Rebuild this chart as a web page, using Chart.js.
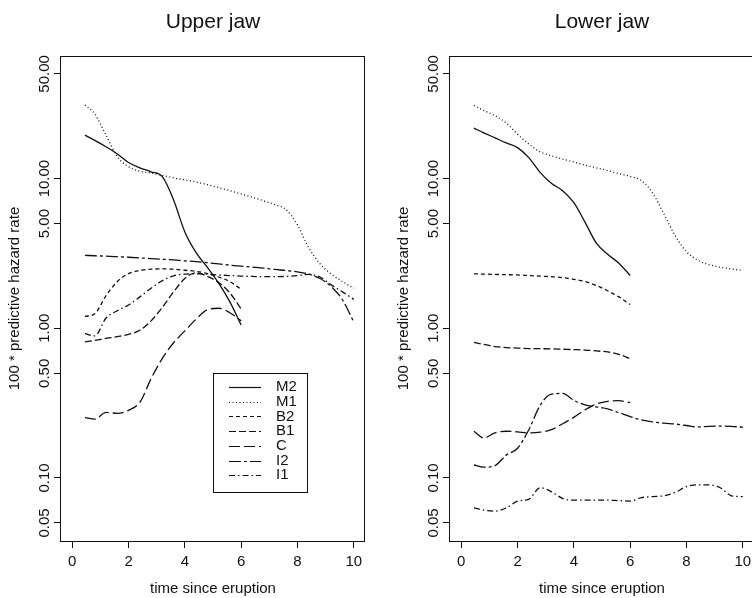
<!DOCTYPE html>
<html>
<head>
<meta charset="utf-8">
<script src="https://cdn.jsdelivr.net/npm/chart.js@4.4.1/dist/chart.umd.min.js"></script>
<style>
html, body { margin: 0; padding: 0; background: #fff; overflow: hidden; }
#wrap { position: relative; width: 752px; height: 598px; overflow: hidden; }
canvas { position: absolute; top: 0; }
#upper { left: -1px; }
#lower { left: 388px; }
</style>
</head>
<body>
<div id="wrap">
  <canvas id="upper" width="390" height="598"></canvas>
  <canvas id="lower" width="390" height="598"></canvas>
</div>
<script>
// time grid (years since eruption)
var times = [0.45, 0.8, 1.2, 1.6, 2.0, 2.4, 2.8, 3.2, 3.6, 4.0, 4.4, 4.8, 5.2, 5.6, 6.0,
             6.4, 6.8, 7.2, 7.6, 8.0, 8.4, 8.8, 9.2, 9.6, 10.0];
var teeth = ['M2', 'M1', 'B2', 'B1', 'C', 'I2', 'I1'];
var xTicks = [0, 2, 4, 6, 8, 10];
var yTicks = [0.05, 0.1, 0.5, 1, 5, 10, 50];

// upper jaw
var upperM2 = [19.5, 18.0, 16.3, 14.6, 12.8, 11.8, 11.1, 10.3, 7.2, 4.4, 3.2, 2.55, 2.0, 1.5, 1.05];
var upperM1 = [31, 27, 19.5, 14.0, 12.0, 11.2, 10.9, 10.5, 10.1, 9.8, 9.5, 9.1, 8.7, 8.3, 7.9,
               7.5, 7.1, 6.7, 6.2, 4.9, 3.45, 2.7, 2.3, 2.05, 1.85];
var upperB2 = [1.20, 1.25, 1.65, 2.05, 2.32, 2.43, 2.48, 2.49, 2.48, 2.44, 2.40, 2.32, 2.2, 2.05, 1.82];
var upperB1 = [0.81, 0.83, 0.855, 0.88, 0.91, 0.97, 1.12, 1.38, 1.75, 2.15, 2.35, 2.22, 2.02, 1.72, 1.35];
var upperC  = [0.253, 0.247, 0.274, 0.27, 0.283, 0.32, 0.46, 0.63, 0.80, 0.96, 1.15, 1.33, 1.36, 1.27, 1.12];
var upperI2 = [3.07, 3.05, 3.03, 3.01, 2.98, 2.95, 2.92, 2.89, 2.86, 2.82, 2.79, 2.74, 2.69, 2.64, 2.6,
               2.56, 2.52, 2.47, 2.43, 2.38, 2.3, 2.15, 1.9, 1.55, 1.1];
var upperI1 = [0.92, 0.89, 1.17, 1.31, 1.43, 1.62, 1.85, 2.08, 2.24, 2.3, 2.31, 2.3, 2.27, 2.25, 2.23,
               2.22, 2.21, 2.21, 2.22, 2.25, 2.29, 2.2, 1.95, 1.75, 1.56];

// lower jaw
var lowerM2 = [21.7, 20.2, 18.7, 17.3, 16.1, 13.8, 11.0, 9.3, 8.3, 6.9, 5.1, 3.7, 3.12, 2.72, 2.25];
var lowerM1 = [30.8, 28.5, 26.3, 23.5, 19.8, 17.0, 15.1, 14.2, 13.5, 12.9, 12.3, 11.8, 11.3, 10.8, 10.35,
               9.7, 8.0, 5.8, 4.15, 3.25, 2.85, 2.66, 2.56, 2.49, 2.43];
var lowerB2 = [2.31, 2.30, 2.29, 2.28, 2.27, 2.25, 2.23, 2.21, 2.18, 2.12, 2.05, 1.93, 1.78, 1.62, 1.44];
var lowerB1 = [0.805, 0.78, 0.755, 0.743, 0.737, 0.732, 0.73, 0.728, 0.724, 0.72, 0.715, 0.705, 0.695, 0.67, 0.625];
var lowerC  = [0.205, 0.185, 0.2, 0.205, 0.203, 0.2, 0.202, 0.21, 0.23, 0.254, 0.285, 0.312, 0.325, 0.328, 0.318];
var lowerI2 = [0.122, 0.118, 0.121, 0.142, 0.158, 0.21, 0.305, 0.363, 0.367, 0.33, 0.308, 0.298, 0.289, 0.273, 0.257,
               0.244, 0.237, 0.232, 0.229, 0.224, 0.219, 0.221, 0.222, 0.221, 0.218];
var lowerI1 = [0.063, 0.061, 0.06, 0.063, 0.07, 0.072, 0.086, 0.081, 0.073, 0.071, 0.071, 0.071, 0.071, 0.0705, 0.07,
               0.0738, 0.075, 0.076, 0.08, 0.0875, 0.09, 0.09, 0.086, 0.076, 0.075];

var dashes = [[], [1, 2.5], [4, 3], [7, 3], [11, 4], [12, 3, 3, 3], [6, 3, 1.5, 3]];
var ink = '#111';
var fontFam = '"Liberation Sans", Arial, Helvetica, sans-serif';

Chart.defaults.font.family = fontFam;
Chart.defaults.color = ink;

// box, rotated y tick labels, panel title and legend
var framePlugin = {
  id: 'frame',
  afterDraw: function(chart, args, opts) {
    var ctx = chart.ctx, a = chart.chartArea, ys = chart.scales.y;
    ctx.save();
    ctx.strokeStyle = ink;
    ctx.lineWidth = 1;
    ctx.strokeRect(Math.round(a.left) - 0.5, Math.round(a.top) + 0.5,
                   Math.round(a.right - a.left), Math.round(a.bottom - a.top));

    ctx.fillStyle = ink;
    ctx.font = '15px ' + fontFam;
    ctx.textAlign = 'center';
    ctx.textBaseline = 'middle';
    ys.ticks.forEach(function(t) {
      var py = ys.getPixelForValue(t.value);
      ctx.save();
      ctx.translate(a.left - 16, py);
      ctx.rotate(-Math.PI / 2);
      ctx.fillText(t.value.toFixed(2), 0, 0);
      ctx.restore();
    });

    ctx.font = '21px ' + fontFam;
    ctx.fillText(opts.title, (a.left + a.right) / 2, 22);

    if (opts.legend) {
      var bx = a.left + 152, by = 373;
      ctx.strokeRect(bx + 0.5, by + 0.5, 94, 119);
      ctx.font = '15px ' + fontFam;
      ctx.textAlign = 'left';
      ctx.lineWidth = 1.2;
      chart.data.datasets.forEach(function(ds, k) {
        var ry = by + 14 + k * 14.7;
        ctx.beginPath();
        ctx.setLineDash(ds.borderDash);
        ctx.moveTo(bx + 16, Math.round(ry) + 0.5);
        ctx.lineTo(bx + 48, Math.round(ry) + 0.5);
        ctx.stroke();
        ctx.setLineDash([]);
        ctx.fillText(ds.label, bx + 63, ry);
      });
    }
    ctx.restore();
  }
};

function makeChart(id, title, series, showLegend) {
  var datasets = teeth.map(function(name, k) {
    return {
      label: name,
      data: series[k].map(function(v, i) { return { x: times[i], y: v }; }),
      borderColor: ink,
      borderWidth: 1.3,
      borderDash: dashes[k],
      pointRadius: 0,
      fill: false,
      cubicInterpolationMode: 'monotone'
    };
  });

  var tickGrid = { drawOnChartArea: false, drawTicks: true, tickLength: 7, color: ink, lineWidth: 1 };

  return new Chart(document.getElementById(id), {
    type: 'line',
    data: { datasets: datasets },
    plugins: [framePlugin],
    options: {
      responsive: false,
      animation: false,
      events: [],
      layout: { padding: { top: 56, right: 24, bottom: 0, left: 0 } },
      plugins: {
        legend: { display: false },
        tooltip: { enabled: false },
        frame: { title: title, legend: showLegend }
      },
      scales: {
        x: {
          type: 'linear',
          min: -0.4,
          max: 10.4,
          afterBuildTicks: function(s) { s.ticks = xTicks.map(function(v) { return { value: v }; }); },
          afterFit: function(s) { s.height = 57; },
          grid: tickGrid,
          border: { display: false },
          ticks: { font: { size: 15 }, padding: 5, maxRotation: 0, autoSkip: false },
          title: { display: true, text: 'time since eruption', font: { size: 15 }, padding: { top: 0, bottom: 0 } }
        },
        y: {
          type: 'logarithmic',
          min: 0.0379,
          max: 65.9,
          afterBuildTicks: function(s) { s.ticks = yTicks.map(function(v) { return { value: v }; }); },
          afterFit: function(s) { s.width = 62; },
          grid: tickGrid,
          border: { display: false },
          ticks: { display: false },
          title: { display: true, text: '100 * predictive hazard rate', font: { size: 15 }, padding: { top: 7, bottom: 0 } }
        }
      }
    }
  });
}

makeChart('upper', 'Upper jaw',
  [upperM2, upperM1, upperB2, upperB1, upperC, upperI2, upperI1], true);
makeChart('lower', 'Lower jaw',
  [lowerM2, lowerM1, lowerB2, lowerB1, lowerC, lowerI2, lowerI1], false);
</script>
</body>
</html>
